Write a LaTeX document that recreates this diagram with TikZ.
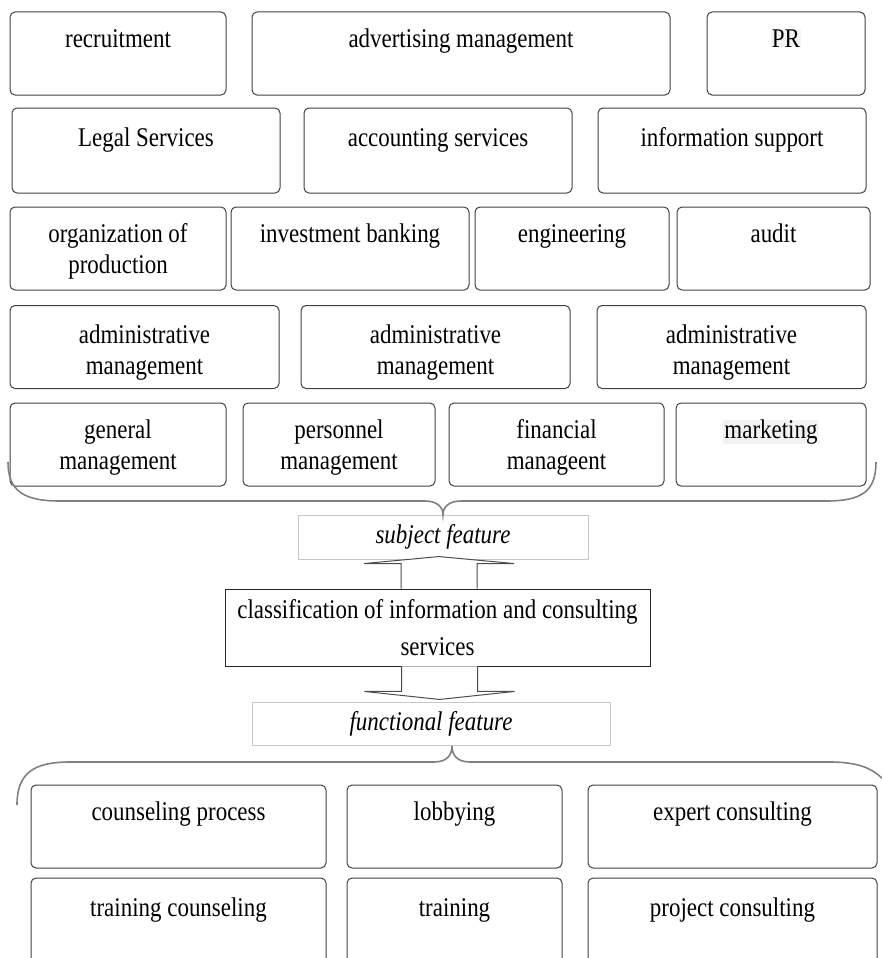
\documentclass[tikz,border=0pt]{standalone}
\usepackage{fontspec}
\setmainfont{Liberation Serif}[FakeStretch=0.85]
\usetikzlibrary{calc}

\tikzstyle{cell}=[draw=black!75, line width=1pt, rounded corners=5pt, inner sep=0pt]
\tikzstyle{tag}=[anchor=base, yshift=-36pt, align=center, inner sep=0pt,
	font=\fontsize{27}{31}\selectfont]
% base of a two-line label is its last line
\tikzstyle{twoline}=[yshift=-31pt]
\tikzstyle{hl}=[fill=black!5, inner xsep=1pt]
\tikzstyle{feature}=[draw=black!22, line width=0.8pt, inner sep=0pt,
	font=\fontsize{27}{31}\selectfont\itshape]
\tikzstyle{brace}=[draw=black!50, line width=1.6pt]
\tikzstyle{blockarrow}=[draw=black!70, line width=1pt, fill=white]

\begin{document}
\begin{tikzpicture}[x=1pt, y=-1pt]
	\useasboundingbox (0,0) rectangle (882,958);
	\clip (0,0) rectangle (882,958);

	% subject feature: rows of services
	\node[cell, minimum width=216pt, minimum height=83pt, label={[tag]north:recruitment}] (rec) at (118,53.5) {};
	\node[cell, minimum width=418pt, minimum height=83pt, label={[tag]north:advertising management}] (adv) at (461,53.5) {};
	\node[cell, minimum width=158pt, minimum height=83pt, label={[tag, hl]north:PR}] (pr) at (786,53.5) {};

	\node[cell, minimum width=268pt, minimum height=85pt, label={[tag, yshift=-3pt]north:Legal Services}] (legal) at (146,150.5) {};
	\node[cell, minimum width=268pt, minimum height=85pt, label={[tag, yshift=-3pt]north:accounting services}] (acc) at (438,150.5) {};
	\node[cell, minimum width=268pt, minimum height=85pt, label={[tag, yshift=-3pt]north:information support}] (info) at (732,150.5) {};

	\node[cell, minimum width=216pt, minimum height=83pt, label={[tag, twoline]north:organization of\\production}] (org) at (118,248.5) {};
	\node[cell, minimum width=238pt, minimum height=83pt, label={[tag]north:investment banking}] (inv) at (350,248.5) {};
	\node[cell, minimum width=194pt, minimum height=83pt, label={[tag]north:engineering}] (eng) at (572,248.5) {};
	\node[cell, minimum width=193pt, minimum height=83pt, label={[tag]north:audit}] (audit) at (773.5,248.5) {};

	\node[cell, minimum width=269pt, minimum height=83pt, label={[tag, twoline, yshift=-2pt]north:administrative\\management}] (adm1) at (144.5,347) {};
	\node[cell, minimum width=269pt, minimum height=83pt, label={[tag, twoline, yshift=-2pt]north:administrative\\management}] (adm2) at (435.5,347) {};
	\node[cell, minimum width=269pt, minimum height=83pt, label={[tag, twoline, yshift=-2pt]north:administrative\\management}] (adm3) at (731.5,347) {};

	\node[cell, minimum width=216pt, minimum height=83pt, label={[tag, twoline]north:general\\management}] (gen) at (118,444.5) {};
	\node[cell, minimum width=192pt, minimum height=83pt, label={[tag, twoline]north:personnel\\management}] (pers) at (339,444.5) {};
	\node[cell, minimum width=215pt, minimum height=83pt, label={[tag, twoline]north:financial\\manageent}] (fin) at (556.5,444.5) {};
	\node[cell, minimum width=190pt, minimum height=83pt, label={[tag, hl]north:marketing}] (mkt) at (771,444.5) {};

	\node[feature, minimum width=290pt, minimum height=44pt] (subj) at (443,537) {subject feature};

	\draw[brace] (8,462) .. controls (8,492) and (25,501) .. (60,501) -- (425,501)
		.. controls (437,501) and (443,507) .. (subj.north)
		.. controls (443,507) and (449,501) .. (461,501) -- (826,501)
		.. controls (861,501) and (876,492) .. (876,462);

	% centre
	\node[draw=black!85, line width=0.9pt, minimum width=425pt, minimum height=77pt, align=center,
		font=\fontsize{27}{37}\selectfont] (cls) at (437.5,627.5) {classification of information and consulting\\services};

	\coordinate (up) at ($(cls.north)+(1.5,0)$);
	\coordinate (dn) at ($(cls.south)+(2,0)$);
	\draw[blockarrow] (up) ++(-38,0) -- ++(0,-25) -- ++(-37,0) -- ++(75,-7) -- ++(75,7) -- ++(-37,0) -- ++(0,25);
	\draw[blockarrow] (dn) ++(-38,0) -- ++(0,25) -- ++(-37,0) -- ++(75,8) -- ++(75,-8) -- ++(-37,0) -- ++(0,-25);

	\node[feature, minimum width=358pt, minimum height=43pt] (func) at (431,723.5) {functional feature};

	\draw[brace] (17,805) .. controls (17,772) and (35,762) .. (70,762) -- (434,762)
		.. controls (446,762) and (452,756) .. (452,746)
		.. controls (452,756) and (458,762) .. (470,762) -- (830,762)
		.. controls (862,762) and (880,770) .. (892,792);

	% functional feature: kinds of consulting
	\node[cell, minimum width=295pt, minimum height=83pt, label={[tag]north:counseling process}] (cp) at (178.5,826.5) {};
	\node[cell, minimum width=215pt, minimum height=83pt, label={[tag]north:lobbying}] (lob) at (454.5,826.5) {};
	\node[cell, minimum width=289pt, minimum height=83pt, label={[tag]north:expert consulting}] (exp) at (732.5,826.5) {};

	\node[cell, minimum width=295pt, minimum height=95pt, label={[tag, yshift=-3pt]north:training counseling}] (tc) at (178.5,925.5) {};
	\node[cell, minimum width=215pt, minimum height=95pt, label={[tag, yshift=-3pt]north:training}] (tr) at (454.5,925.5) {};
	\node[cell, minimum width=289pt, minimum height=95pt, label={[tag, yshift=-3pt]north:project consulting}] (pc) at (732.5,925.5) {};
\end{tikzpicture}
\end{document}
